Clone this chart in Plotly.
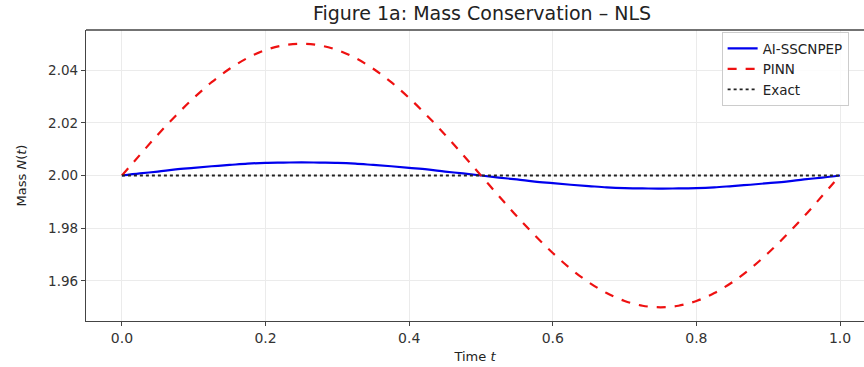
import plotly.graph_objects as go

t = [i / 40 for i in range(41)]
ai_sscnpep = [2.0, 2.0008, 2.0015, 2.0023, 2.0029, 2.0035, 2.0040, 2.0045, 2.0048, 2.0049, 2.0050,
              2.0049, 2.0048, 2.0045, 2.0040, 2.0035, 2.0029, 2.0023, 2.0015, 2.0008, 2.0,
              1.9992, 1.9985, 1.9977, 1.9971, 1.9965, 1.9960, 1.9955, 1.9952, 1.9951, 1.9950,
              1.9951, 1.9952, 1.9955, 1.9960, 1.9965, 1.9971, 1.9977, 1.9985, 1.9992, 2.0]
pinn = [2.0, 2.0078, 2.0155, 2.0227, 2.0294, 2.0354, 2.0405, 2.0446, 2.0476, 2.0494, 2.0500,
        2.0494, 2.0476, 2.0446, 2.0405, 2.0354, 2.0294, 2.0227, 2.0155, 2.0078, 2.0,
        1.9922, 1.9845, 1.9773, 1.9706, 1.9646, 1.9595, 1.9554, 1.9524, 1.9506, 1.9500,
        1.9506, 1.9524, 1.9554, 1.9595, 1.9646, 1.9706, 1.9773, 1.9845, 1.9922, 2.0]
exact = [2.0] * 41

x_ticks = [0.0, 0.2, 0.4, 0.6, 0.8, 1.0]
x_tick_labels = ["0.0", "0.2", "0.4", "0.6", "0.8", "1.0"]
y_ticks = [1.96, 1.98, 2.00, 2.02, 2.04]
y_tick_labels = ["1.96", "1.98", "2.00", "2.02", "2.04"]

font = "DejaVu Sans, Arial, sans-serif"

fig = go.Figure()
fig.add_trace(go.Scatter(x=t, y=ai_sscnpep, mode="lines", name="AI-SSCNPEP",
                         line=dict(color="#0000ee", width=2.2, shape="spline")))
fig.add_trace(go.Scatter(x=t, y=pinn, mode="lines", name="PINN",
                         line=dict(color="#ee1111", width=2.2, dash="dash", shape="spline")))
fig.add_trace(go.Scatter(x=t, y=exact, mode="lines", name="Exact",
                         line=dict(color="#222222", width=1.8, dash="dot")))

fig.update_layout(
    width=864, height=367,
    margin=dict(l=86, r=0, t=30, b=46),
    paper_bgcolor="white", plot_bgcolor="white",
    font=dict(family=font, size=14, color="#333333"),
    title=dict(text="Figure 1a: Mass Conservation – NLS", x=(482 - 86) / 778, xanchor="center",
               xref="paper", y=1 - 13 / 367, yanchor="middle",
               font=dict(family=font, size=19, color="#222222")),
    legend=dict(x=0.817, xanchor="left", y=0.993, yanchor="top",
                bgcolor="rgba(255,255,255,0.85)", bordercolor="#cccccc", borderwidth=1,
                font=dict(family=font, size=13.5, color="#222222"),
                tracegroupgap=0, itemwidth=30),
    xaxis=dict(range=[-0.05, 1.0334], tickvals=x_ticks, ticktext=x_tick_labels,
               showgrid=True, gridcolor="#ebebeb", gridwidth=1, zeroline=False,
               showline=True, linecolor="#444444", linewidth=1.3,
               ticks="outside", ticklen=4, tickcolor="#444444",
               tickfont=dict(size=14, color="#333333"),
               title=dict(text="Time <i>t</i>", font=dict(family=font, size=13, color="#222222"),
                          standoff=6)),
    yaxis=dict(range=[1.9448, 2.0552], tickvals=y_ticks, ticktext=y_tick_labels,
               showgrid=True, gridcolor="#ebebeb", gridwidth=1, zeroline=False,
               showline=True, linecolor="#444444", linewidth=1.3,
               ticks="outside", ticklen=4, tickcolor="#444444",
               tickfont=dict(size=13.5, color="#333333"),
               title=dict(text="Mass <i>N</i>(<i>t</i>)", font=dict(family=font, size=13, color="#222222"),
                          standoff=18)),
    shapes=[dict(type="line", xref="paper", yref="paper", x0=0, x1=1, y0=1, y1=1,
                 line=dict(color="#444444", width=1.3))],
)

fig.write_html("out.html", config={"displayModeBar": False},
               post_script="document.body.style.margin='0';document.body.style.overflow='hidden';")
